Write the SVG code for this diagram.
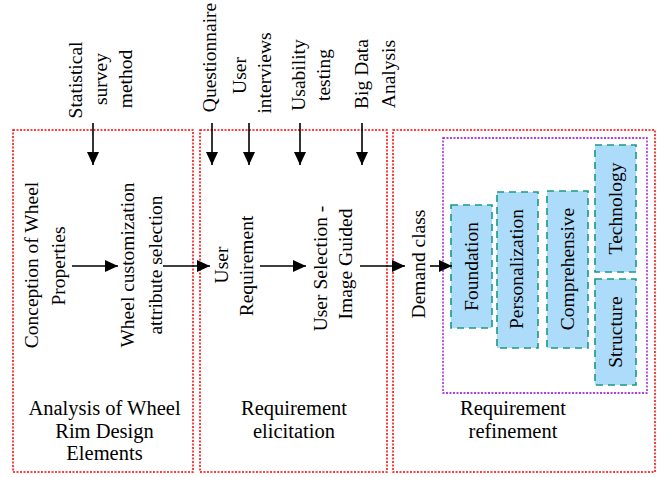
<svg xmlns="http://www.w3.org/2000/svg" width="658" height="477" viewBox="0 0 658 477">
<style>
text{font-family:"Liberation Serif","Times New Roman",serif;fill:#000}
.r{font-size:19.5px}
.b{font-size:20.5px}
.red{fill:none;stroke:#ff0000;stroke-width:1.5;stroke-dasharray:2 1.5}
.pur{fill:none;stroke:#9900dd;stroke-width:1.3;stroke-dasharray:2 1.5}
.teal{fill:#acdcf9;stroke:#179a82;stroke-width:1.6;stroke-dasharray:7 5}
.ln{stroke:#000;stroke-width:1.6;fill:none}
</style>
<defs>
<marker id="ah" markerWidth="13" markerHeight="12" refX="13" refY="6" orient="auto" markerUnits="userSpaceOnUse">
<path d="M0,0 L13,6 L0,12 Z" fill="#000"/>
</marker>
</defs>
<rect width="658" height="477" fill="#fff"/>

<g id="stage1">
<rect class="red" x="13" y="130" width="180" height="342"/>
<text class="b" text-anchor="middle"><tspan x="104.5" y="415">Analysis of Wheel</tspan><tspan x="104.5" y="437.5">Rim Design</tspan><tspan x="104.5" y="460">Elements</tspan></text>
</g>
<g id="stage2">
<rect class="red" x="200" y="130" width="187" height="342"/>
<text class="b" text-anchor="middle"><tspan x="294" y="415">Requirement</tspan><tspan x="294" y="437.5">elicitation</tspan></text>
</g>
<g id="stage3">
<rect class="red" x="393" y="130" width="262" height="342"/>
<text class="b" text-anchor="middle"><tspan x="513" y="415">Requirement</tspan><tspan x="513" y="437.5">refinement</tspan></text>
</g>
<g id="demand-group">
<rect class="pur" x="443" y="138" width="204" height="255"/>
</g>

<g id="statistical">
<text class="r" text-anchor="middle" transform="translate(82,80) rotate(-90)"><tspan x="0" y="0">Statistical</tspan><tspan x="1" y="25">survey</tspan><tspan x="1" y="50">method</tspan></text>
</g>
<g id="questionnaire">
<text class="r" text-anchor="middle" transform="translate(216,57.5) rotate(-90)">Questionnaire</text>
</g>
<g id="interviews">
<text class="r" text-anchor="middle" transform="translate(246,74) rotate(-90)"><tspan x="-1.5" y="0">User</tspan><tspan x="1" y="25">interviews</tspan></text>
</g>
<g id="usability">
<text class="r" text-anchor="middle" transform="translate(305,75) rotate(-90)"><tspan x="0" y="0">Usability</tspan><tspan x="0" y="25">testing</tspan></text>
</g>
<g id="bigdata">
<text class="r" text-anchor="middle" transform="translate(368,74) rotate(-90)"><tspan x="0" y="0">Big Data</tspan><tspan x="0" y="27">Analysis</tspan></text>
</g>

<g id="conception">
<text class="r" text-anchor="middle" transform="translate(38,266) rotate(-90)"><tspan x="1" y="0">Conception of Wheel</tspan><tspan x="0" y="27">Properties</tspan></text>
</g>
<g id="attribute">
<text class="r" text-anchor="middle" transform="translate(134,265) rotate(-90)"><tspan x="0" y="0">Wheel customization</tspan><tspan x="0" y="28">attribute selection</tspan></text>
</g>
<g id="user-requirement">
<text class="r" text-anchor="middle" transform="translate(228,265) rotate(-90)"><tspan x="0" y="0">User</tspan><tspan x="-1" y="25">Requirement</tspan></text>
</g>
<g id="user-selection">
<text class="r" text-anchor="middle" transform="translate(327,266) rotate(-90)"><tspan x="-2.5" y="0">User Selection -</tspan><tspan x="2" y="25">Image Guided</tspan></text>
</g>
<g id="demand-class">
<text class="r" text-anchor="middle" transform="translate(425,264) rotate(-90)">Demand class</text>
</g>

<g id="foundation">
<rect class="teal" x="451" y="205" width="41" height="123"/>
<text class="r" text-anchor="middle" transform="translate(478,266.5) rotate(-90)">Foundation</text>
</g>
<g id="personalization">
<rect class="teal" x="497" y="192" width="41" height="156"/>
<text class="r" text-anchor="middle" transform="translate(523,269) rotate(-90)">Personalization</text>
</g>
<g id="comprehensive">
<rect class="teal" x="547" y="191" width="41" height="157"/>
<text class="r" text-anchor="middle" transform="translate(573.5,269) rotate(-90)">Comprehensive</text>
</g>
<g id="technology">
<rect class="teal" x="595" y="145" width="41" height="127"/>
<text class="r" text-anchor="middle" transform="translate(621.5,208.5) rotate(-90)">Technology</text>
</g>
<g id="structure">
<rect class="teal" x="595" y="279" width="41" height="106"/>
<text class="r" text-anchor="middle" transform="translate(621.5,332) rotate(-90)">Structure</text>
</g>

<g id="connectors">
<line class="ln" x1="93" y1="123" x2="93" y2="165" marker-end="url(#ah)"/>
<line class="ln" x1="212" y1="123" x2="212" y2="165" marker-end="url(#ah)"/>
<line class="ln" x1="249" y1="123" x2="249" y2="165" marker-end="url(#ah)"/>
<line class="ln" x1="300" y1="123" x2="300" y2="165" marker-end="url(#ah)"/>
<line class="ln" x1="362" y1="123" x2="362" y2="165" marker-end="url(#ah)"/>
<line class="ln" x1="72" y1="266" x2="118" y2="266" marker-end="url(#ah)"/>
<line class="ln" x1="163" y1="266" x2="210" y2="266" marker-end="url(#ah)"/>
<line class="ln" x1="260" y1="266" x2="306" y2="266" marker-end="url(#ah)"/>
<line class="ln" x1="360" y1="266" x2="405" y2="266" marker-end="url(#ah)"/>
<line class="ln" x1="430" y1="266" x2="452" y2="266" marker-end="url(#ah)"/>
</g>
</svg>
